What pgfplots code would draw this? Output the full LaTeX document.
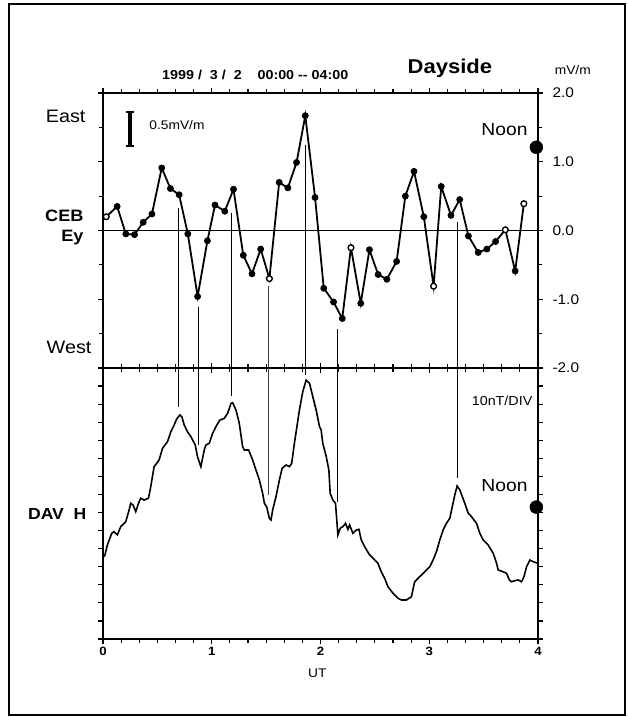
\documentclass[border=0pt]{standalone}
\usepackage{fontspec}
\setmainfont{Liberation Sans}[FakeStretch=1.1]
\usepackage{pgfplots}
\usepackage{pgfplotstable}
\pgfplotsset{compat=1.18}
\newcommand{\fs}[1]{\fontsize{#1}{#1}\selectfont}

\pgfplotstableread{
t v
0.03 0.20
0.13 0.35
0.21 -0.05
0.29 -0.06
0.37 0.12
0.45 0.24
0.54 0.91
0.62 0.61
0.70 0.52
0.78 -0.05
0.87 -0.96
0.96 -0.15
1.03 0.37
1.12 0.28
1.20 0.60
1.29 -0.36
1.37 -0.63
1.45 -0.27
1.53 -0.70
1.62 0.70
1.70 0.62
1.78 0.99
1.86 1.67
1.95 0.48
2.03 -0.84
2.12 -1.04
2.20 -1.28
2.28 -0.25
2.37 -1.06
2.45 -0.28
2.53 -0.64
2.61 -0.71
2.70 -0.45
2.78 0.50
2.86 0.86
2.95 0.20
3.04 -0.81
3.11 0.64
3.20 0.22
3.28 0.45
3.36 -0.08
3.45 -0.32
3.53 -0.27
3.61 -0.16
3.70 0.01
3.79 -0.59
3.87 0.39
}\eydata

\pgfplotstableread{
t v
0.03 0.20
1.53 -0.70
2.28 -0.25
3.04 -0.81
3.70 0.01
3.87 0.39
}\eyopen

\pgfplotstableread{
t h
0.005 4.55
0.018 4.65
0.040 5.20
0.080 5.85
0.101 5.94
0.132 5.76
0.163 6.22
0.209 6.49
0.240 7.14
0.255 7.51
0.276 7.42
0.301 7.05
0.332 7.60
0.347 7.79
0.378 7.69
0.418 7.79
0.439 8.43
0.470 9.54
0.516 9.91
0.547 10.55
0.593 10.92
0.624 11.47
0.654 11.84
0.676 12.16
0.707 12.40
0.725 12.30
0.747 11.84
0.777 11.47
0.808 11.20
0.848 10.74
0.869 10.09
0.900 9.54
0.931 10.46
0.946 10.74
0.977 10.83
1.008 11.38
1.038 11.75
1.075 12.12
1.115 12.21
1.146 12.49
1.177 13.04
1.192 13.08
1.223 12.67
1.253 11.94
1.284 10.64
1.300 10.46
1.339 10.46
1.376 9.91
1.407 9.35
1.438 8.80
1.468 8.06
1.484 7.51
1.505 7.32
1.530 6.68
1.545 6.59
1.560 7.14
1.591 7.88
1.622 8.80
1.647 9.45
1.684 9.63
1.714 9.54
1.735 9.72
1.760 10.83
1.806 12.67
1.837 13.69
1.868 14.33
1.899 14.15
1.914 13.78
1.960 12.67
1.991 11.75
2.006 11.57
2.021 10.83
2.053 10.09
2.077 9.35
2.089 8.06
2.114 7.69
2.138 7.51
2.160 5.76
2.181 6.13
2.206 6.22
2.230 6.40
2.252 6.07
2.267 6.31
2.298 5.85
2.329 6.03
2.353 6.07
2.375 5.48
2.406 5.11
2.452 4.65
2.482 4.47
2.528 4.19
2.559 3.72
2.590 3.36
2.620 2.90
2.667 2.53
2.713 2.25
2.744 2.16
2.790 2.16
2.836 2.34
2.866 3.17
2.912 3.45
2.959 3.72
3.005 4.00
3.035 4.37
3.066 4.83
3.097 5.48
3.127 6.03
3.158 6.40
3.189 6.68
3.205 7.14
3.235 7.97
3.256 8.47
3.281 8.25
3.327 7.51
3.358 6.96
3.389 6.77
3.435 6.40
3.465 5.85
3.496 5.48
3.542 5.20
3.588 4.74
3.619 4.19
3.634 3.82
3.680 3.72
3.711 3.64
3.736 3.27
3.757 3.17
3.788 3.23
3.818 3.27
3.849 3.17
3.871 3.45
3.895 4.00
3.926 4.37
3.956 4.28
4.000 4.19
}\davdata

\begin{document}
\begin{tikzpicture}
\useasboundingbox (0,0) rectangle (628pt,717pt);
\draw[line width=1.8pt] (9pt,2pt) rectangle (625pt,713pt);

% ---------- upper panel ----------
\begin{axis}[
  at={(103pt,349pt)}, anchor=south west,
  width=435pt, height=275pt, scale only axis,
  xmin=0, xmax=4, ymin=-2, ymax=2,
  clip=false,
  axis line style={line width=1.8pt},
  xtick={0,1,2,3,4}, minor x tick num=5, xticklabels={},
  ytick={-2,-1,0,1,2}, minor y tick num=1,
  yticklabels={-2.0,-1.0,0.0,1.0,2.0},
  ytick pos=both, yticklabel pos=right,
  tick align=outside,
  major tick length=5pt, minor tick length=4pt,
  every tick/.style={line width=1.2pt, black},
  yticklabel style={font=\fs{14}, xshift=6pt},
]
\addplot[line width=1.8pt] coordinates {(0,0) (4,0)};
% connecting lines (upper part)
\addplot[line width=1.0pt] coordinates {(0.690,0.33) (0.690,-2)};
\addplot[line width=1.8pt] coordinates {(0.879,-1.11) (0.879,-2)};
\addplot[line width=1.2pt] coordinates {(1.183,0.26) (1.183,-2)};
\addplot[line width=1.0pt, black!75] coordinates {(1.524,-0.81) (1.524,-2)};
\addplot[line width=1.2pt] coordinates {(1.859,1.25) (1.859,-2)};
\addplot[line width=1.1pt] coordinates {(2.154,-1.43) (2.154,-2)};
\addplot[line width=1.0pt] coordinates {(3.256,0.12) (3.256,-2)};
% data
\addplot[line width=1.8pt, mark=*, mark size=3pt,
  mark options={fill=black, line width=0.8pt}] table[x=t,y=v] {\eydata};
\addplot[only marks, mark=*, mark size=2.8pt,
  mark options={fill=white, draw=black, line width=1.2pt}] table[x=t,y=v] {\eyopen};
% scale bar
\addplot[line width=3.2pt] coordinates {(0.248,1.23) (0.248,1.73)};
\addplot[line width=2pt] coordinates {(0.214,1.73) (0.282,1.73)};
\addplot[line width=2pt] coordinates {(0.214,1.23) (0.282,1.23)};
\node[anchor=west, font=\fs{12.5}] at (axis cs:0.395,1.53) {0.5mV/m};
% noon marker
\addplot[only marks, mark=*, mark size=6.5pt, mark options={fill=black}] coordinates {(3.985,1.21)};
\node[anchor=east, font=\fs{17.5}] at (axis cs:3.936,1.47) {Noon};
% texts
\node[anchor=east, font=\fs{18}] at (axis cs:-0.129,1.66) {East};
\node[anchor=east, font=\bfseries\fs{16.5}] at (axis cs:-0.147,0.22) {CEB};
\node[anchor=east, font=\bfseries\fs{16.5}] at (axis cs:-0.147,-0.10) {Ey};
\node[anchor=east, font=\fs{18}] at (axis cs:-0.074,-1.70) {West};
\node[font=\bfseries\fs{13}] at (axis cs:1.40,2.27) {1999 /\ \ 3 /\ \ 2\ \ \ \ 00:00 -{}- 04:00};
\node[font=\bfseries\fs{20}] at (axis cs:3.19,2.36) {Dayside};
\node[font=\fs{12.5}] at (axis cs:4.32,2.33) {mV/m};
\end{axis}

% ---------- lower panel ----------
\begin{axis}[
  at={(103pt,78pt)}, anchor=south west,
  width=435pt, height=271pt, scale only axis,
  xmin=0, xmax=4, ymin=0, ymax=15,
  clip=false,
  axis line style={line width=1.8pt},
  xtick={0,1,2,3,4}, minor x tick num=5,
  xticklabels={0,1,2,3,4},
  xticklabel style={font=\bfseries\fs{12}},
  ytick={0,1,...,15}, yticklabels={},
  ytick pos=both,
  tick align=outside,
  major tick length=5pt, minor tick length=4pt,
  every tick/.style={line width=1.2pt, black},
]
% connecting lines (lower part)
\addplot[line width=1.0pt] coordinates {(0.690,15) (0.690,12.86)};
\addplot[line width=1.8pt] coordinates {(0.879,15) (0.879,10.74)};
\addplot[line width=1.2pt] coordinates {(1.183,15) (1.183,13.45)};
\addplot[line width=1.0pt, black!75] coordinates {(1.524,15) (1.524,7.97)};
\addplot[line width=1.2pt] coordinates {(1.859,15) (1.859,14.6)};
\addplot[line width=1.1pt] coordinates {(2.154,15) (2.154,7.6)};
\addplot[line width=1.0pt] coordinates {(3.256,15) (3.256,8.9)};
% DAV H trace
\addplot[line width=1.6pt] table[x=t,y=h] {\davdata};
% noon marker
\addplot[only marks, mark=*, mark size=6.5pt, mark options={fill=black}] coordinates {(3.985,7.3)};
\node[anchor=east, font=\fs{17.5}] at (axis cs:3.936,8.47) {Noon};
\node[anchor=east, font=\fs{13}] at (axis cs:3.98,13.2) {10nT/DIV};
\node[anchor=east, font=\bfseries\fs{16}] at (axis cs:-0.12,6.93) {DAV\ \ H};
\node[font=\fs{12.5}] at (axis cs:1.97,0) [yshift=-34pt] {UT};
\end{axis}
\end{tikzpicture}
\end{document}
